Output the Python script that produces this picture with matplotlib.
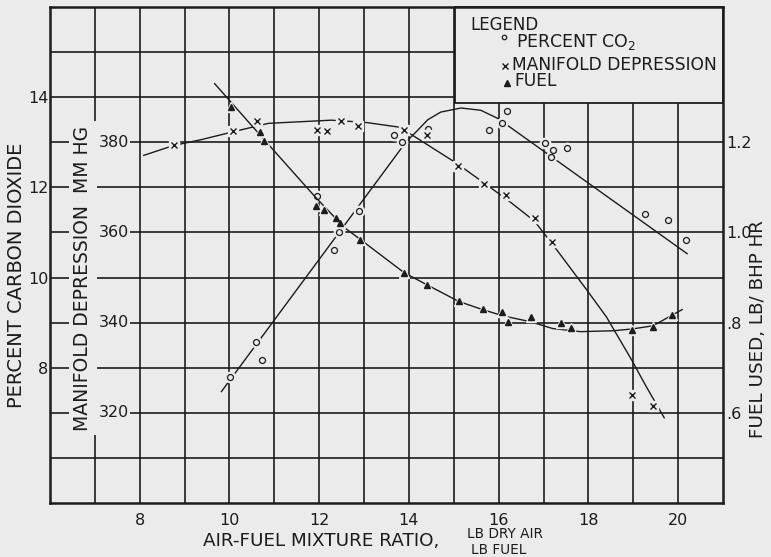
import matplotlib
matplotlib.use("Agg")
import matplotlib.pyplot as plt
from matplotlib.patches import Rectangle
from matplotlib.lines import Line2D

# ---------------- data ----------------
co2_x = [10.02, 10.6, 10.73, 11.96, 12.33, 12.44, 12.89, 13.67, 13.84, 14.42,
         15.78, 16.07, 16.18, 17.04, 17.16, 17.22, 17.53, 19.27, 19.78, 20.18]
co2_y = [7.8, 8.58, 8.18, 11.8, 10.6, 11.0, 11.47, 13.16, 13.0, 13.3,
         13.27, 13.42, 13.69, 12.98, 12.67, 12.82, 12.88, 11.42, 11.27, 10.84]
co2_fit_x = [9.82, 13.93, 14.15, 14.42, 14.71, 15.16, 15.6, 15.98, 20.2]
co2_fit_y = [7.47, 13.0, 13.22, 13.5, 13.67, 13.76, 13.71, 13.53, 10.53]

mf_x = [8.76, 10.07, 10.62, 11.96, 12.18, 12.49, 12.87, 13.89, 14.4,
        15.09, 15.67, 16.16, 16.8, 17.18, 18.98, 19.45]
mf_y = [379.3, 382.4, 384.7, 382.7, 382.4, 384.7, 383.6, 382.7, 381.6,
        374.7, 370.7, 368.4, 363.3, 357.8, 324.0, 321.6]
mf_fit_x = [8.09, 8.76, 9.38, 10.07, 10.49, 10.87, 12.27, 13.04, 13.82, 14.04,
            15.07, 15.67, 16.2, 16.8, 17.29, 17.96, 18.4, 18.96, 19.29, 19.69]
mf_fit_y = [377.1, 379.3, 380.6, 382.3, 383.3, 384.2, 384.9, 384.4, 383.3, 381.8,
            375.3, 371.0, 367.2, 362.5, 356.2, 347.3, 341.3, 331.8, 325.8, 318.9]

fuel_x = [10.04, 10.67, 10.78, 11.93, 12.11, 12.38, 12.47, 12.91, 13.89, 14.4,
          15.11, 15.64, 16.07, 16.2, 16.71, 17.4, 17.62, 18.98, 19.44, 19.87]
fuel_y = [1.278, 1.222, 1.202, 1.058, 1.049, 1.031, 1.02, 0.984, 0.911, 0.884,
          0.847, 0.831, 0.824, 0.802, 0.813, 0.80, 0.789, 0.784, 0.791, 0.816]
fuel_fit_x = [9.67, 10.78, 11.9, 12.56, 12.91, 13.89, 14.4, 15.11, 15.64, 16.1,
              16.71, 17.2, 17.82, 18.56, 18.98, 19.44, 20.09]
fuel_fit_y = [1.33, 1.205, 1.08, 1.011, 0.985, 0.911, 0.884, 0.847, 0.829, 0.815,
              0.802, 0.787, 0.78, 0.782, 0.786, 0.793, 0.829]

x_ticks = [8, 10, 12, 14, 16, 18, 20]
co2_ticks = [8, 10, 12, 14]
mf_ticks = [320, 340, 360, 380]
fuel_ticks = [0.6, 0.8, 1.0, 1.2]
fuel_tick_labels = [".6", ".8", "1.0", "1.2"]

BG = "#ebebeb"
FG = "#1c1c1c"
plt.rcParams["font.family"] = ["DejaVu Sans"]

W, H = 771, 557
fig = plt.figure(figsize=(W / 100, H / 100), dpi=100, facecolor=BG)


def fx(px):
    return px / W


def fy(py):
    return 1 - py / H


ax = fig.add_axes([fx(50), fy(503), (723 - 50) / W, (503 - 7) / H])
ax.set_facecolor(BG)
ax.set_xlim(6, 21)
ax.set_ylim(5, 16)
ax.set_xticks(range(7, 21))
ax.set_xticklabels([str(v) if v in x_ticks else "" for v in range(7, 21)])
ax.set_yticks(range(6, 16))
ax.set_yticklabels([str(v) if v in co2_ticks else "" for v in range(6, 16)])
ax.tick_params(axis="both", length=0, labelsize=11.5, colors=FG)
ax.tick_params(axis="x", pad=7)
ax.tick_params(axis="y", pad=1)
ax.grid(True, color=FG, lw=1.2)
ax.set_axisbelow(True)
for s in ax.spines.values():
    s.set_color(FG)
    s.set_linewidth(1.8)

# legend box covering the grid in the upper right
ax.add_patch(Rectangle((15.03, 13.87), 21 - 15.03, 16 - 13.87, facecolor=BG,
                       edgecolor=FG, lw=1.3, zorder=2.5, clip_on=False))

# CO2 series
ax.plot(co2_fit_x, co2_fit_y, color=FG, lw=1.0, zorder=3)
ax.plot(co2_x, co2_y, ls="none", marker="o", ms=7.5, mfc=BG, mec=BG, zorder=4)
ax.plot(co2_x, co2_y, ls="none", marker="o", ms=4.3, mfc=BG, mec=FG, mew=0.9, zorder=5)

# manifold depression
ax2 = ax.twinx()
ax2.set_ylim(300, 410)
ax2.set_axis_off()
for v in mf_ticks:
    ax2.text(7.08, v, str(v), ha="left", va="center", fontsize=11.5, color=FG,
             bbox=dict(facecolor=BG, edgecolor="none", pad=1.2))
ax2.plot(mf_fit_x, mf_fit_y, color=FG, lw=1.0, zorder=3)
ax2.plot(mf_x, mf_y, ls="none", marker="s", ms=7, mfc=BG, mec=BG, zorder=4)
ax2.plot(mf_x, mf_y, ls="none", marker="x", ms=4.6, mec=FG, mew=1.0, zorder=5)

# fuel
ax3 = ax.twinx()
ax3.set_ylim(0.4, 1.5)
ax3.set_yticks(fuel_ticks)
ax3.set_yticklabels(fuel_tick_labels)
ax3.tick_params(axis="y", length=0, labelsize=11.5, pad=2, colors=FG)
for s in ax3.spines.values():
    s.set_visible(False)
ax3.patch.set_visible(False)
ax3.plot(fuel_fit_x, fuel_fit_y, color=FG, lw=1.0, zorder=3)
ax3.plot(fuel_x, fuel_y, ls="none", marker="^", ms=7.5, mfc=BG, mec=BG, zorder=4)
ax3.plot(fuel_x, fuel_y, ls="none", marker="^", ms=4.6, mfc=FG, mec=FG, zorder=5)

# axis titles
fig.text(fx(17), fy(275), "PERCENT CARBON DIOXIDE", rotation=90, ha="center",
         va="center", fontsize=14, color=FG)
fig.text(fx(83), fy(278), "MANIFOLD DEPRESSION  MM HG", rotation=90, ha="center",
         va="center", fontsize=13.5, color=FG,
         bbox=dict(facecolor=BG, edgecolor="none", pad=3.0))
fig.text(fx(758), fy(329), "FUEL USED, LB/ BHP HR", rotation=90, ha="center",
         va="center", fontsize=13.2, color=FG)
fig.text(fx(203), fy(541.5), "AIR-FUEL MIXTURE RATIO,", ha="left", va="center",
         fontsize=13.2, color=FG)
fig.text(fx(505), fy(534.5), "LB DRY AIR", ha="center", va="center",
         fontsize=9.8, color=FG)
fig.text(fx(499), fy(550), "LB FUEL", ha="center", va="center",
         fontsize=9.8, color=FG)

# legend text
fig.text(fx(470), fy(25), "LEGEND", ha="left", va="center", fontsize=12, color=FG)
fig.text(fx(516), fy(42), "PERCENT CO$_2$", ha="left", va="center", fontsize=12.5, color=FG)
fig.text(fx(512), fy(64.5), "MANIFOLD DEPRESSION", ha="left", va="center", fontsize=12.3, color=FG)
fig.text(fx(514), fy(81.5), "FUEL", ha="left", va="center", fontsize=12.3, color=FG)
fig.add_artist(Line2D([fx(504)], [fy(37)], transform=fig.transFigure, ls="none",
                      marker="o", ms=3.2, mfc=BG, mec=FG, mew=0.9))
fig.add_artist(Line2D([fx(505)], [fy(66)], transform=fig.transFigure, ls="none",
                      marker="x", ms=4.3, mec=FG, mew=1.0))
fig.add_artist(Line2D([fx(507)], [fy(83)], transform=fig.transFigure, ls="none",
                      marker="^", ms=4.3, mfc=FG, mec=FG))

fig.savefig("out.png", dpi=100, facecolor=BG)
